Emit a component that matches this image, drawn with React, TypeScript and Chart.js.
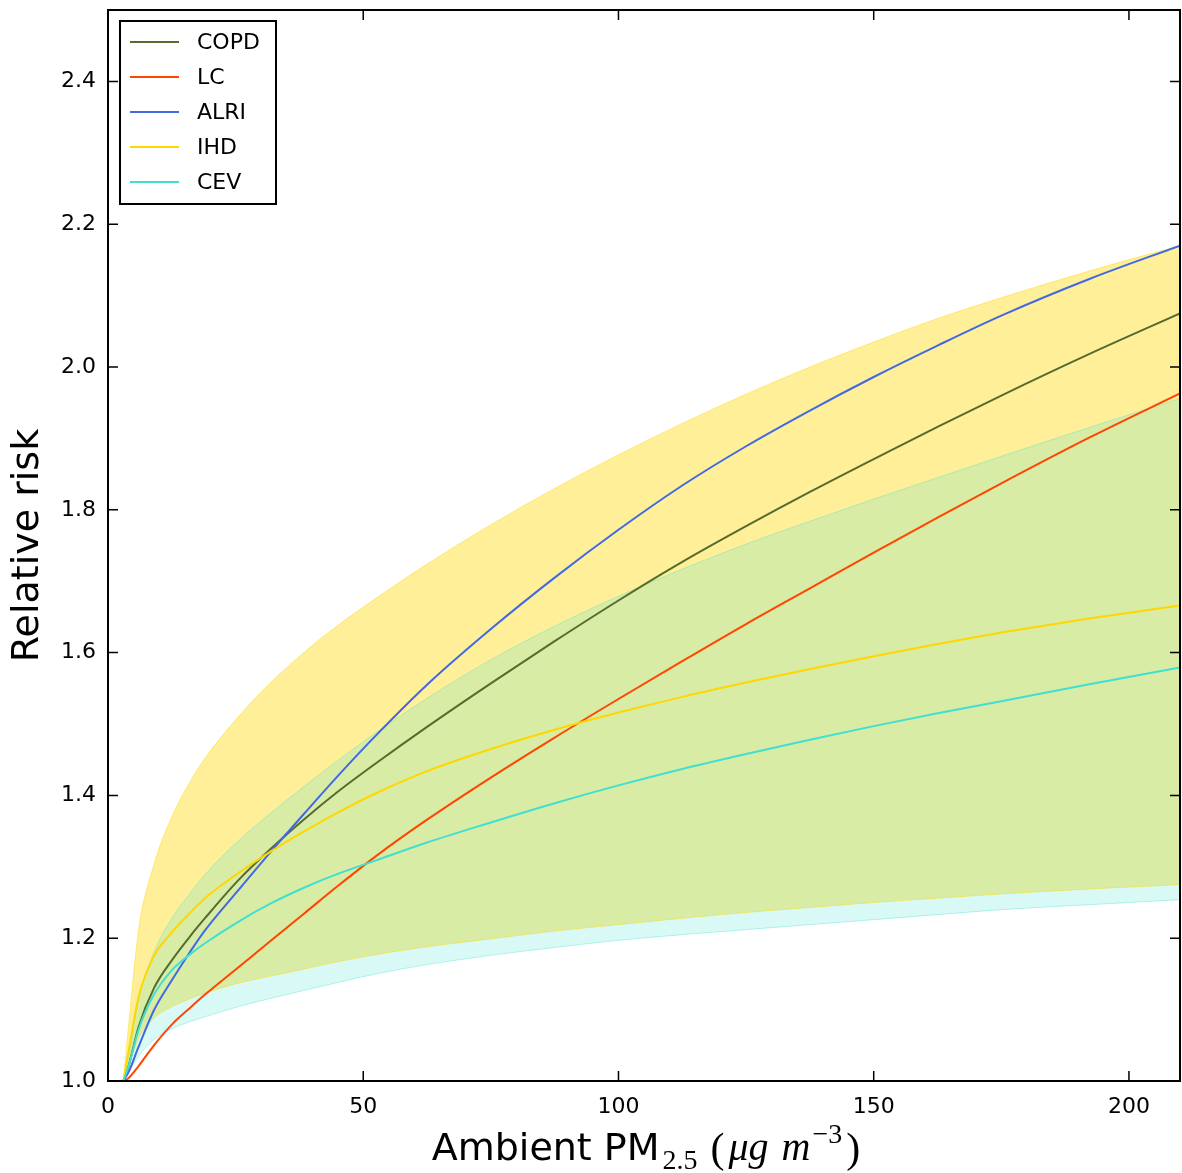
import { useEffect, useRef } from 'react';
import { Chart, registerables } from 'chart.js';

Chart.register(...registerables);

// Ambient PM2.5 concentrations (x)
const PM = [3, 4, 6, 9, 12.5, 16, 19, 25.5, 32, 38.5, 45, 52.5, 62.5, 75, 87.5, 100, 112.5, 125, 137.5, 150, 162.5, 175, 192.5, 210];

// Central relative-risk curves
const COPD = [1.0, 1.02, 1.076, 1.13, 1.169, 1.202, 1.228, 1.281, 1.326, 1.367, 1.405, 1.445, 1.496, 1.557, 1.616, 1.673, 1.727, 1.777, 1.825, 1.871, 1.916, 1.96, 2.019, 2.075];
const LC = [1.0, 1.004, 1.021, 1.05, 1.079, 1.102, 1.121, 1.159, 1.197, 1.235, 1.273, 1.315, 1.366, 1.425, 1.481, 1.535, 1.588, 1.64, 1.69, 1.74, 1.789, 1.837, 1.902, 1.963];
const ALRI = [1.0, 1.012, 1.048, 1.099, 1.141, 1.18, 1.211, 1.267, 1.322, 1.375, 1.427, 1.484, 1.555, 1.633, 1.705, 1.772, 1.834, 1.889, 1.939, 1.986, 2.03, 2.072, 2.124, 2.17];
const IHD = [1.0, 1.04, 1.118, 1.175, 1.208, 1.235, 1.256, 1.291, 1.322, 1.35, 1.376, 1.403, 1.434, 1.465, 1.492, 1.516, 1.538, 1.558, 1.577, 1.595, 1.612, 1.628, 1.648, 1.666];
const CEV = [1.0, 1.02, 1.072, 1.121, 1.155, 1.177, 1.193, 1.223, 1.249, 1.271, 1.29, 1.309, 1.334, 1.362, 1.389, 1.414, 1.437, 1.458, 1.478, 1.497, 1.515, 1.532, 1.556, 1.579];

// Uncertainty bands
const IHD_UPPER = [1.0, 1.075, 1.212, 1.303, 1.37, 1.418, 1.452, 1.51, 1.559, 1.601, 1.638, 1.676, 1.724, 1.779, 1.83, 1.877, 1.921, 1.962, 2.0, 2.035, 2.068, 2.097, 2.135, 2.17];
const IHD_LOWER = [1.0, 1.02, 1.06, 1.088, 1.104, 1.115, 1.123, 1.137, 1.147, 1.157, 1.167, 1.177, 1.188, 1.199, 1.21, 1.219, 1.228, 1.236, 1.243, 1.25, 1.256, 1.262, 1.269, 1.275];
const CEV_UPPER = [1.0, 1.035, 1.115, 1.18, 1.228, 1.262, 1.289, 1.336, 1.376, 1.413, 1.449, 1.488, 1.536, 1.59, 1.637, 1.679, 1.717, 1.752, 1.784, 1.815, 1.845, 1.875, 1.916, 1.956];
const CEV_LOWER = [1.0, 1.012, 1.035, 1.058, 1.073, 1.083, 1.09, 1.104, 1.116, 1.127, 1.138, 1.15, 1.163, 1.176, 1.187, 1.197, 1.205, 1.212, 1.219, 1.226, 1.233, 1.24, 1.247, 1.254];

const SERIES = [
  { label: 'COPD', data: COPD, color: '#556b2f' },
  { label: 'LC', data: LC, color: '#ff4500' },
  { label: 'ALRI', data: ALRI, color: '#4169e1' },
  { label: 'IHD', data: IHD, color: '#ffd700' },
  { label: 'CEV', data: CEV, color: '#40e0d0' },
];

const X_TICK_STEP = 50;
const Y_TICK_STEP = 0.2;

const SANS = '"DejaVu Sans", sans-serif';
const SERIF = '"Liberation Serif", "DejaVu Serif", serif';

const framePlugin = {
  id: 'frame',
  afterDraw(chart: any) {
    const { ctx, chartArea: a, scales } = chart;
    const L = 10;
    ctx.save();
    ctx.strokeStyle = '#000';
    ctx.lineWidth = 1.5;
    ctx.beginPath();
    scales.x.ticks.forEach((t: any) => {
      const px = scales.x.getPixelForValue(t.value);
      ctx.moveTo(px, a.bottom);
      ctx.lineTo(px, a.bottom - L);
      ctx.moveTo(px, a.top);
      ctx.lineTo(px, a.top + L);
    });
    scales.y.ticks.forEach((t: any) => {
      const py = scales.y.getPixelForValue(t.value);
      ctx.moveTo(a.left, py);
      ctx.lineTo(a.left + L, py);
      ctx.moveTo(a.right, py);
      ctx.lineTo(a.right - L, py);
    });
    ctx.stroke();
    ctx.lineWidth = 2;
    ctx.strokeRect(a.left, a.top, a.right - a.left, a.bottom - a.top);
    ctx.restore();
  },
};

const legendPlugin = {
  id: 'boxLegend',
  afterDraw(chart: any) {
    const { ctx } = chart;
    const x0 = 120, y0 = 21, w = 156, h = 183;
    ctx.save();
    ctx.fillStyle = '#fff';
    ctx.fillRect(x0, y0, w, h);
    ctx.strokeStyle = '#000';
    ctx.lineWidth = 2;
    ctx.strokeRect(x0, y0, w, h);
    ctx.font = `22px ${SANS}`;
    ctx.textBaseline = 'middle';
    ctx.textAlign = 'left';
    SERIES.forEach((s, i) => {
      const y = 42 + i * 35;
      ctx.strokeStyle = s.color;
      ctx.lineWidth = 2;
      ctx.beginPath();
      ctx.moveTo(130, y);
      ctx.lineTo(179, y);
      ctx.stroke();
      ctx.fillStyle = '#000';
      ctx.fillText(s.label, 197, y + 1);
    });
    ctx.restore();
  },
};

const titlesPlugin = {
  id: 'titles',
  afterDraw(chart: any) {
    const { ctx, chartArea: a } = chart;
    ctx.save();
    ctx.fillStyle = '#000';
    // y title
    ctx.translate(28, (a.top + a.bottom) / 2);
    ctx.rotate(-Math.PI / 2);
    ctx.font = `38px ${SANS}`;
    ctx.textAlign = 'center';
    ctx.textBaseline = 'middle';
    ctx.fillText('Relative risk', 0, 0);
    ctx.restore();

    // x title with subscript / superscript
    const pieces = [
      { t: 'Ambient PM', f: `38px ${SANS}`, dy: 0, gap: 3 },
      { t: '2.5', f: `28px ${SERIF}`, dy: 9, gap: 13 },
      { t: '(', f: `42px ${SERIF}`, dy: 2, gap: 4 },
      { t: 'μg', f: `italic 40px ${SERIF}`, dy: 0, gap: 13 },
      { t: 'm', f: `italic 40px ${SERIF}`, dy: 0, gap: 2 },
      { t: '−3', f: `28px ${SERIF}`, dy: -17, gap: 4 },
      { t: ')', f: `42px ${SERIF}`, dy: 2, gap: 0 },
    ];
    ctx.save();
    ctx.fillStyle = '#000';
    ctx.textBaseline = 'alphabetic';
    ctx.textAlign = 'left';
    let total = 0;
    const widths = pieces.map((p) => {
      ctx.font = p.f;
      const w = ctx.measureText(p.t).width;
      total += w + p.gap;
      return w;
    });
    let x = (a.left + a.right) / 2 + 2 - total / 2;
    const base = 1160;
    pieces.forEach((p, i) => {
      ctx.font = p.f;
      ctx.fillText(p.t, x, base + p.dy);
      x += widths[i] + p.gap;
    });
    ctx.restore();
  },
};

export default function App() {
  const ref = useRef<HTMLCanvasElement>(null);

  useEffect(() => {
    const canvas = ref.current;
    if (!canvas) return;
    const pts = (arr: number[]) => PM.map((x, i) => ({ x, y: arr[i] }));

    const lineSets = SERIES.map((s, i) => ({
      label: s.label,
      data: pts(s.data),
      borderColor: s.color,
      backgroundColor: s.color,
      borderWidth: 2,
      pointRadius: 0,
      fill: false,
      cubicInterpolationMode: 'monotone' as const,
      order: 5 - i,
    }));

    const n = lineSets.length;
    const band = (label: string, data: number[], rgb: string, a: number, ea: number, fill: any, order: number) => ({
      label,
      data: pts(data),
      borderColor: `rgba(${rgb},${ea})`,
      backgroundColor: `rgba(${rgb},${a})`,
      borderWidth: 1,
      pointRadius: 0,
      fill,
      cubicInterpolationMode: 'monotone' as const,
      order,
    });
    const bandSets = [
      band('CEV upper', CEV_UPPER, '64,224,208', 0.2, 0.35, n + 1, 20),
      band('CEV lower', CEV_LOWER, '64,224,208', 0.2, 0.35, false, 21),
      band('IHD upper', IHD_UPPER, '255,215,0', 0.4, 0.45, n + 3, 30),
      band('IHD lower', IHD_LOWER, '255,215,0', 0.4, 0.45, false, 31),
    ];

    const chart = new Chart(canvas, {
      type: 'line',
      data: { datasets: [...lineSets, ...bandSets] as any },
      options: {
        animation: false,
        responsive: false,
        devicePixelRatio: 1,
        parsing: false as any,
        layout: { padding: { left: 0, right: 2, top: 10, bottom: 0 } },
        plugins: {
          legend: { display: false },
          tooltip: { enabled: false },
          filler: { drawTime: 'beforeDatasetsDraw' } as any,
        },
        scales: {
          x: {
            type: 'linear',
            min: 0,
            max: 210,
            grid: { display: false, drawTicks: false },
            border: { display: false },
            ticks: {
              stepSize: X_TICK_STEP,
              includeBounds: false,
              color: '#000',
              font: { family: SANS, size: 22 },
              padding: 13,
              maxRotation: 0,
            },
            afterFit: (s: any) => {
              s.height = 92;
              s.paddingLeft = 0;
              s.paddingRight = 0;
            },
          },
          y: {
            type: 'linear',
            min: 1.0,
            max: 2.5,
            grid: { display: false, drawTicks: false },
            border: { display: false },
            ticks: {
              stepSize: Y_TICK_STEP,
              includeBounds: false,
              color: '#000',
              font: { family: SANS, size: 22 },
              padding: 12,
              callback: (v: any) => Number(v).toFixed(1),
            },
            afterFit: (s: any) => {
              s.width = 108;
              s.paddingTop = 0;
              s.paddingBottom = 0;
            },
          },
        },
      },
      plugins: [framePlugin, legendPlugin, titlesPlugin],
    });

    return () => chart.destroy();
  }, []);

  return (
    <div
      style={{
        position: 'fixed',
        left: 0,
        top: 0,
        width: 1182,
        height: 1173,
        background: '#fff',
      }}
    >
      <canvas ref={ref} width={1182} height={1173} style={{ display: 'block' }} />
    </div>
  );
}
